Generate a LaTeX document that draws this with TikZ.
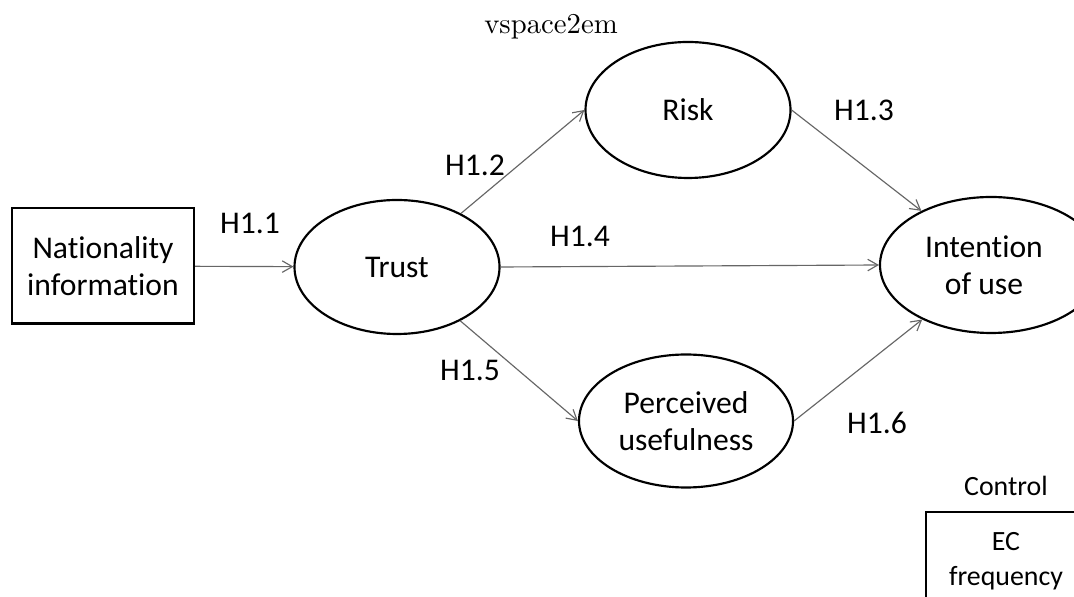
\documentclass[tikz,border=0pt]{standalone}
\usepackage{fontspec}
\newfontfamily\carlito[Ligatures=NoCommon]{Carlito}
\usetikzlibrary{shapes.geometric,arrows.meta}
\newcommand{\pxu}{0.348pt}
\begin{document}
\begin{tikzpicture}[x=0.348pt,y=-0.348pt,
  every node/.style={font=\carlito\fontsize{11}{13}\selectfont},
  small/.style={font=\carlito\fontsize{9.7}{12}\selectfont},
  latent/.style={draw, ellipse, line width=0.75pt, inner sep=0pt, align=center},
  manifest/.style={draw, rectangle, line width=0.7pt, inner sep=0pt, align=center},
  hyp/.style={draw=black!60, line width=0.4pt, -{Straight Barb[length=3.5pt,width=4pt]}},
  lbl/.style={inner sep=0pt}]
\clip (0,0) rectangle (1074,597);
\fill[white] (0,0) rectangle (1074,597);
\node[manifest, minimum width=182*\pxu, minimum height=115*\pxu] (nat) at (103,266) {Nationality\\information};
\node[latent, minimum width=205*\pxu, minimum height=134*\pxu] (trust) at (397,267) {Trust};
\node[latent, minimum width=205*\pxu, minimum height=136*\pxu] (risk) at (688,110) {Risk};
\node[latent, minimum width=214*\pxu, minimum height=133*\pxu] (pu) at (686,421) {Perceived\\usefulness};
\node[latent, minimum width=222*\pxu, minimum height=136*\pxu] (int) at (991,265) {};
\node[align=center] (inttext) at (984,265) {Intention\\of use};
\node[small] (ctrl) at (1006,486) {Control};
\node[manifest, small, minimum width=160*\pxu, minimum height=98*\pxu] (ec) at (1006,561) {EC\\frequency};
\node[font=\rmfamily\fontsize{10}{12}\selectfont] (vs) at (551,27) {vspace2em};
\draw[hyp] (nat) -- (trust);
\draw[hyp] (trust) -- (risk.west);
\draw[hyp] (risk.east) -- (int);
\draw[hyp] (trust.east) -- (int.west);
\draw[hyp] (trust) -- (pu.west);
\draw[hyp] (pu.east) -- (int);
\node[lbl] (h11) at (250,223) {H1.1};
\node[lbl] (h12) at (475,165) {H1.2};
\node[lbl] (h13) at (864,110) {H1.3};
\node[lbl] (h14) at (580,236) {H1.4};
\node[lbl] (h15) at (470,370) {H1.5};
\node[lbl] (h16) at (877,423) {H1.6};
\end{tikzpicture}
\end{document}
